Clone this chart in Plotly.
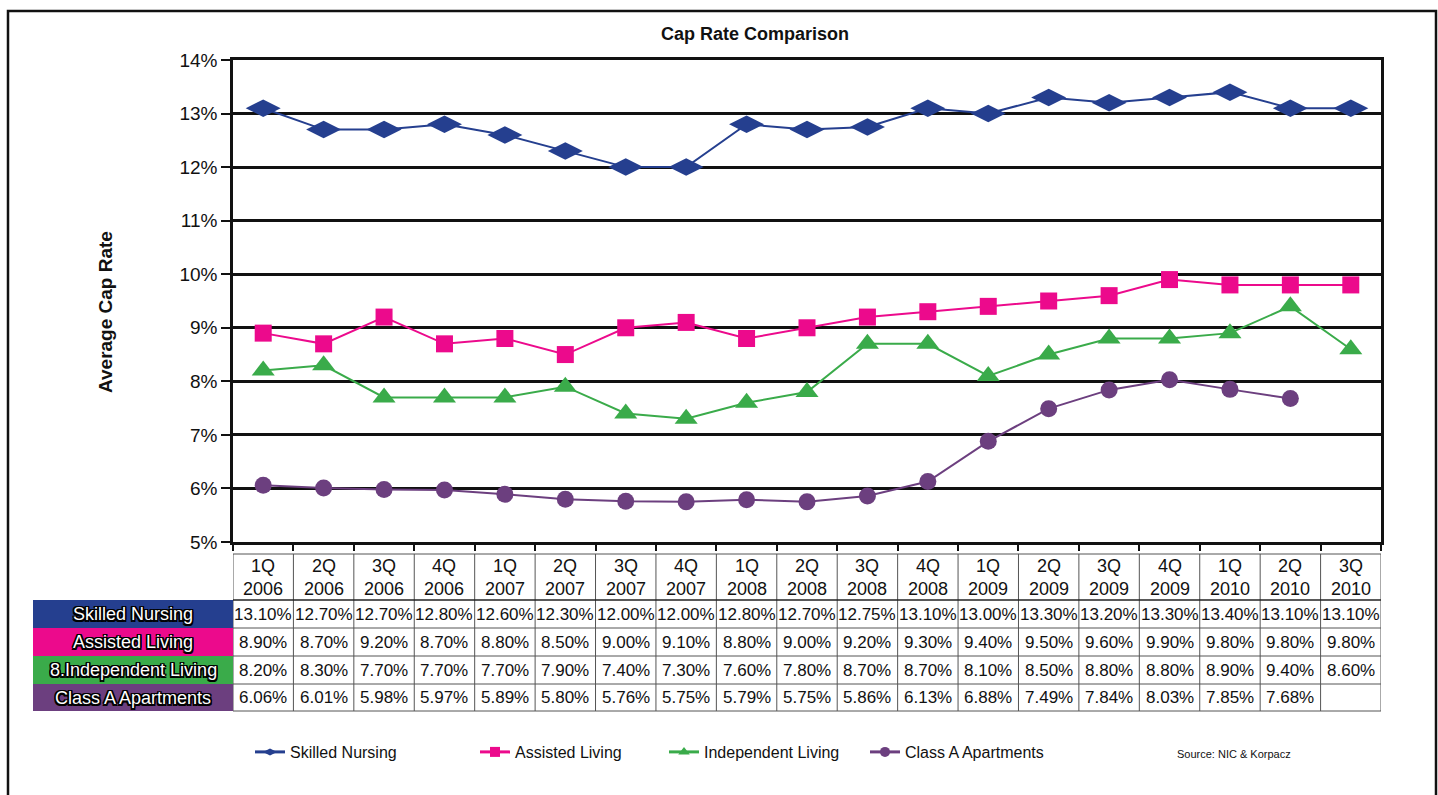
import plotly.graph_objects as go

# ---- data ----
quarters = ["1Q 2006", "2Q 2006", "3Q 2006", "4Q 2006", "1Q 2007", "2Q 2007", "3Q 2007",
            "4Q 2007", "1Q 2008", "2Q 2008", "3Q 2008", "4Q 2008", "1Q 2009", "2Q 2009",
            "3Q 2009", "4Q 2009", "1Q 2010", "2Q 2010", "3Q 2010"]
skilled_nursing = [13.10, 12.70, 12.70, 12.80, 12.60, 12.30, 12.00, 12.00, 12.80, 12.70,
                   12.75, 13.10, 13.00, 13.30, 13.20, 13.30, 13.40, 13.10, 13.10]
assisted_living = [8.90, 8.70, 9.20, 8.70, 8.80, 8.50, 9.00, 9.10, 8.80, 9.00,
                   9.20, 9.30, 9.40, 9.50, 9.60, 9.90, 9.80, 9.80, 9.80]
independent_living = [8.20, 8.30, 7.70, 7.70, 7.70, 7.90, 7.40, 7.30, 7.60, 7.80,
                      8.70, 8.70, 8.10, 8.50, 8.80, 8.80, 8.90, 9.40, 8.60]
class_a_apartments = [6.06, 6.01, 5.98, 5.97, 5.89, 5.80, 5.76, 5.75, 5.79, 5.75,
                      5.86, 6.13, 6.88, 7.49, 7.84, 8.03, 7.85, 7.68, None]
y_ticks = [5, 6, 7, 8, 9, 10, 11, 12, 13, 14]

series = [
    # legend name, table row name, values, colour, symbol, size
    ("Skilled Nursing", "Skilled Nursing", skilled_nursing, "#253f8f", "diamond-wide", 25),
    ("Assisted Living", "Assisted Living", assisted_living, "#ec0a8c", "square", 17),
    ("Independent Living", "8.Independent Living", independent_living, "#3aab4a", "triangle-up", 20),
    ("Class A Apartments", "Class A Apartments", class_a_apartments, "#6c3f7f", "circle", 17),
]

# ---- page geometry (pixels) ----
W, H = 1438, 795
PL, PR, PT, PB = 233, 1381, 60, 542          # plot area edges
PW, PH = PR - PL, PB - PT


def px_x(px):
    return (px - PL) / PW


def px_y(py):
    return (PB - py) / PH


FONT = "Liberation Sans, Arial, Helvetica, sans-serif"
INK = "#111111"

fig = go.Figure()

for name, _, vals, color, symbol, size in series:
    fig.add_trace(go.Scatter(
        x=quarters, y=vals, mode="lines+markers", name=name,
        line=dict(color=color, width=2),
        marker=dict(symbol=symbol, size=size, color=color),
        showlegend=False, connectgaps=False,
        hovertemplate="%{x}: %{y:.2f}%<extra>" + name + "</extra>",
    ))

# legend entries, each in its own legend box so they can be placed freely
legend_x = [250, 475, 664, 865]
for i, (name, _, _, color, symbol, _) in enumerate(series):
    lg = "legend" if i == 0 else f"legend{i + 1}"
    fig.add_trace(go.Scatter(
        x=[None], y=[None], mode="lines+markers", name=name,
        line=dict(color=color, width=3),
        marker=dict(symbol=symbol, size=10, color=color),
        legend=lg, showlegend=True, hoverinfo="skip",
    ))

shapes = []
annotations = []

# ---- data table under the plot ----
row_edges = [554, 600, 628, 656, 684, 711]
grid_col = "#555555"
n = len(quarters)
# vertical cell borders
for i in range(n + 1):
    shapes.append(dict(type="line", xref="x", yref="paper",
                       x0=i - 0.5, x1=i - 0.5, y0=px_y(row_edges[0]), y1=px_y(row_edges[-1]),
                       line=dict(color=grid_col, width=1)))
# horizontal cell borders
for k, ry in enumerate(row_edges):
    shapes.append(dict(type="line", xref="x", yref="paper",
                       x0=-0.5, x1=n - 0.5, y0=px_y(ry), y1=px_y(ry),
                       line=dict(color="#222222" if k == 1 else grid_col,
                                 width=1.5 if k == 1 else 1)))

# header cells
for q in quarters:
    qtr, yr = q.split(" ")
    annotations.append(dict(x=q, xref="x", yref="paper", xanchor="center", yanchor="middle",
                            y=px_y((row_edges[0] + row_edges[1]) / 2),
                            text=f"{qtr}<br>{yr}", showarrow=False, align="center",
                            font=dict(family=FONT, size=18, color=INK)))

# body rows
outline = ("-1.5px -1.5px 0 #000, 1.5px -1.5px 0 #000, -1.5px 1.5px 0 #000, "
           "1.5px 1.5px 0 #000, 0 -1.5px 0 #000, 0 1.5px 0 #000, -1.5px 0 0 #000, 1.5px 0 0 #000")
for r, (_, row_name, vals, color, _, _) in enumerate(series):
    y0, y1 = row_edges[r + 1], row_edges[r + 2]
    yc = px_y((y0 + y1) / 2)
    shapes.append(dict(type="rect", xref="paper", yref="paper",
                       x0=px_x(33), x1=px_x(233), y0=px_y(y1), y1=px_y(y0),
                       fillcolor=color, line=dict(width=0), layer="below"))
    annotations.append(dict(x=px_x(133), y=yc, xref="paper", yref="paper",
                            xanchor="center", yanchor="middle",
                            text=row_name, showarrow=False,
                            font=dict(family=FONT, size=18, color="white", shadow=outline)))
    for q, v in zip(quarters, vals):
        if v is None:
            continue
        annotations.append(dict(x=q, xref="x", yref="paper", y=yc,
                                xanchor="center", yanchor="middle",
                                text=f"{v:.2f}%", showarrow=False,
                                font=dict(family=FONT, size=17, color=INK)))

# outer frame around the whole graphic
shapes.append(dict(type="rect", xref="paper", yref="paper",
                   x0=px_x(8), x1=px_x(1436), y0=px_y(830), y1=px_y(11),
                   line=dict(color=INK, width=2.5), fillcolor="rgba(0,0,0,0)"))

# axis title and source note
annotations.append(dict(x=px_x(105), y=px_y(312), xref="paper", yref="paper",
                        xanchor="center", yanchor="middle",
                        text="<b>Average Cap Rate</b>", textangle=-90, showarrow=False,
                        font=dict(family=FONT, size=19, color=INK)))
annotations.append(dict(x=px_x(1175), y=px_y(754), xref="paper", yref="paper",
                        xanchor="left", yanchor="middle",
                        text="Source: NIC &amp; Korpacz", showarrow=False,
                        font=dict(family=FONT, size=11, color=INK)))

legend_common = dict(orientation="h", xanchor="left", yanchor="middle", y=px_y(752),
                     bgcolor="rgba(0,0,0,0)", borderwidth=0,
                     font=dict(family=FONT, size=16, color=INK),
                     itemwidth=30)

fig.update_layout(
    width=W, height=H,
    margin=dict(l=PL, r=W - PR, t=PT, b=H - PB, pad=0),
    paper_bgcolor="white", plot_bgcolor="white",
    title=dict(text="<b>Cap Rate Comparison</b>", x=px_x(755), xref="paper", xanchor="center",
               y=1 - 34 / H, yref="container", yanchor="middle",
               font=dict(family=FONT, size=18, color=INK)),
    xaxis=dict(type="category", categoryorder="array", categoryarray=quarters,
               range=[-0.5, n - 0.5], showticklabels=False, showgrid=False,
               showline=True, linecolor=INK, linewidth=2.5, mirror=True,
               ticks="outside", tickson="boundaries", ticklen=6, tickwidth=2, tickcolor=INK,
               zeroline=False),
    yaxis=dict(range=[5, 14], tickvals=y_ticks, ticktext=[f"{t}%" for t in y_ticks],
               showgrid=True, gridcolor=INK, gridwidth=2.5,
               showline=True, linecolor=INK, linewidth=2.5, mirror=True,
               ticks="outside", ticklen=9, tickwidth=2, tickcolor=INK,
               tickfont=dict(family=FONT, size=19, color=INK), zeroline=False),
    shapes=shapes,
    annotations=annotations,
    legend=dict(x=px_x(legend_x[0]), **legend_common),
    legend2=dict(x=px_x(legend_x[1]), **legend_common),
    legend3=dict(x=px_x(legend_x[2]), **legend_common),
    legend4=dict(x=px_x(legend_x[3]), **legend_common),
)

fig.write_html("out.html")
